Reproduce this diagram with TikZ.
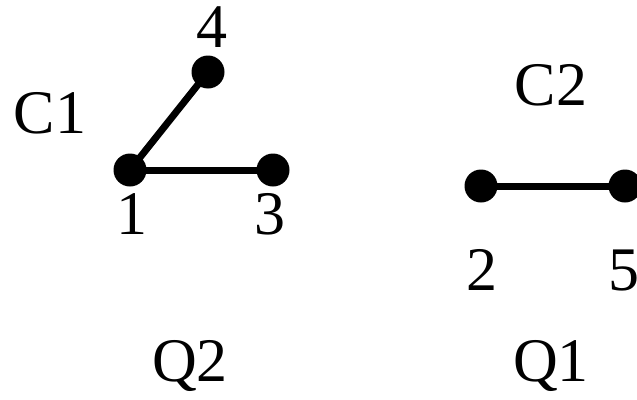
\documentclass[tikz,border=0pt]{standalone}
\usepackage{fontspec}
\setmainfont{Liberation Serif}

\tikzset{
  vertex/.style={circle, fill=black, inner sep=0pt, minimum size=33pt},
  edge/.style={line width=7pt},
  lbl/.style={inner sep=0pt, font=\fontsize{62}{70}\selectfont}
}

\begin{document}
\begin{tikzpicture}[x=1pt,y=-1pt]

	\useasboundingbox (0,0) rectangle (637,399);

	% Vertices
	\node[vertex] (v1) at (130,170) {};
	\node[vertex] (v4) at (208,72) {};
	\node[vertex] (v3) at (273,170) {};
	\node[vertex] (v2) at (481,186) {};
	\node[vertex] (v5) at (625,186) {};

	% Edges
	\draw[edge] (v1.center) -- (v4.center);
	\draw[edge] (v1.center) -- (v3.center);
	\draw[edge] (v2.center) -- (v5.center);

	% Labels
	\node[lbl] (l4) at (212,27) {4};
	\node[lbl] (c1) at (50,113) {C1};
	\node[lbl] (l1) at (132,214) {1};
	\node[lbl] (l3) at (270,214) {3};
	\node[lbl] (c2) at (551,85) {C2};
	\node[lbl] (l2) at (482,270) {2};
	\node[lbl] (l5) at (624,270) {5};
	\node[lbl] (q2) at (190,366) {Q2};
	\node[lbl] (q1) at (551,366) {Q1};

\end{tikzpicture}
\end{document}
